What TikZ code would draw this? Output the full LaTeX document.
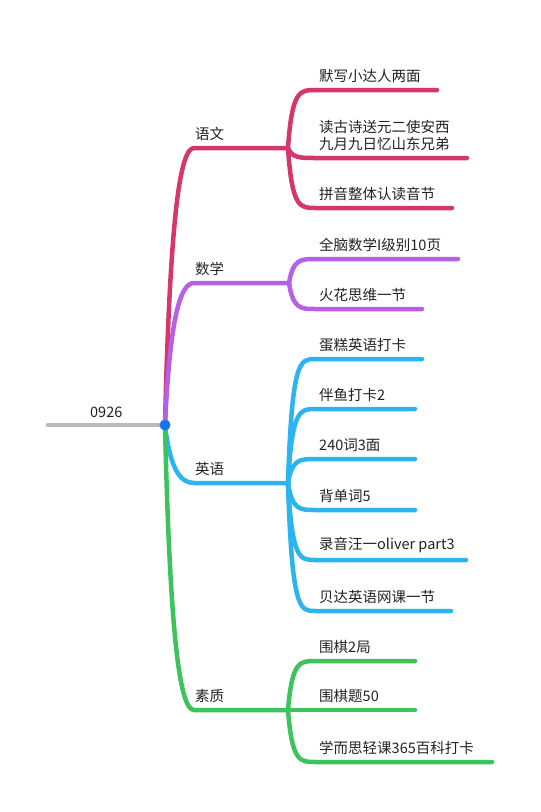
\documentclass[tikz,border=0pt]{standalone}
\usepackage{fontspec}
\setmainfont{Noto Sans CJK SC}
\usepackage{xcolor}
\usetikzlibrary{calc}
\definecolor{mred}{HTML}{D4376E}
\definecolor{mpurple}{HTML}{B660E6}
\definecolor{mblue}{HTML}{2BB5F0}
\definecolor{mgreen}{HTML}{3CC35C}
\definecolor{mgray}{HTML}{BBBBBB}
\definecolor{mdot}{HTML}{1577EE}
\definecolor{mtext}{HTML}{222222}

\begin{document}
\begin{tikzpicture}[x=1pt, y=-1pt,
  limb/.style={line width=4.5pt, line cap=round},
  label/.style={font=\fontsize{14.5}{17}\selectfont, text=mtext, inner sep=0pt, anchor=south west, align=left}]

  \useasboundingbox (0,0) rectangle (541,812);

  %% Root
  \coordinate (root) at (165,425);
  \coordinate (tail) at (48,425);
  \draw[limb, mgray] (tail) -- (root);
  \node[label] (rootlbl) at (90,418) {0926};

  %% Main branches: corner where the horizontal starts, fork where the leaves split
  \foreach \b/\y/\fx/\col/\txt in {
    yw/148/288/mred/{语文},
    sx/283/289/mpurple/{数学},
    yy/483/288/mblue/{英语},
    sz/710/288/mgreen/{素质}
  }{
    \coordinate (\b-c) at (194,\y);
    \coordinate (\b-fork) at (\fx,\y);
    \draw[limb, \col] (root) .. controls ($(root)!0.75!(root |- \b-c)+(5,0)$) and ($(\b-c)+(-14,0)$) .. (\b-c) -- (\b-fork);
    \node[label] (\b-lbl) at (195,{\y-7}) {\txt};
  }

  %% Leaves
  \foreach \b/\col/\i/\ly/\ex/\txt in {
    yw/mred/1/90/437/{默写小达人两面},
    yw/mred/2/158/467/{读古诗送元二使安西\\九月九日忆山东兄弟},
    yw/mred/3/208/452/{拼音整体认读音节},
    sx/mpurple/1/259/458/{全脑数学I级别10页},
    sx/mpurple/2/309/422/{火花思维一节},
    yy/mblue/1/359/422/{蛋糕英语打卡},
    yy/mblue/2/409/415/{伴鱼打卡2},
    yy/mblue/3/459/415/{240词3面},
    yy/mblue/4/510/415/{背单词5},
    yy/mblue/5/560/466/{录音汪一oliver part3},
    yy/mblue/6/611/451/{贝达英语网课一节},
    sz/mgreen/1/661/415/{围棋2局},
    sz/mgreen/2/710/415/{围棋题50},
    sz/mgreen/3/762/492/{学而思轻课365百科打卡}
  }{
    \coordinate (\b-s\i) at (315,\ly);
    \coordinate (\b-e\i) at (\ex,\ly);
    \draw[limb, \col] (\b-fork) .. controls ($(\b-fork |- \b-s\i)+(4,0)$) and ($(\b-fork |- \b-s\i)+(12,0)$) .. (\b-s\i) -- (\b-e\i);
    \node[label] (\b-t\i) at (319,{\ly-7}) {\txt};
  }

  %% Root dot on top
  \fill[mdot] (root) circle (5.5);

\end{tikzpicture}
\end{document}
